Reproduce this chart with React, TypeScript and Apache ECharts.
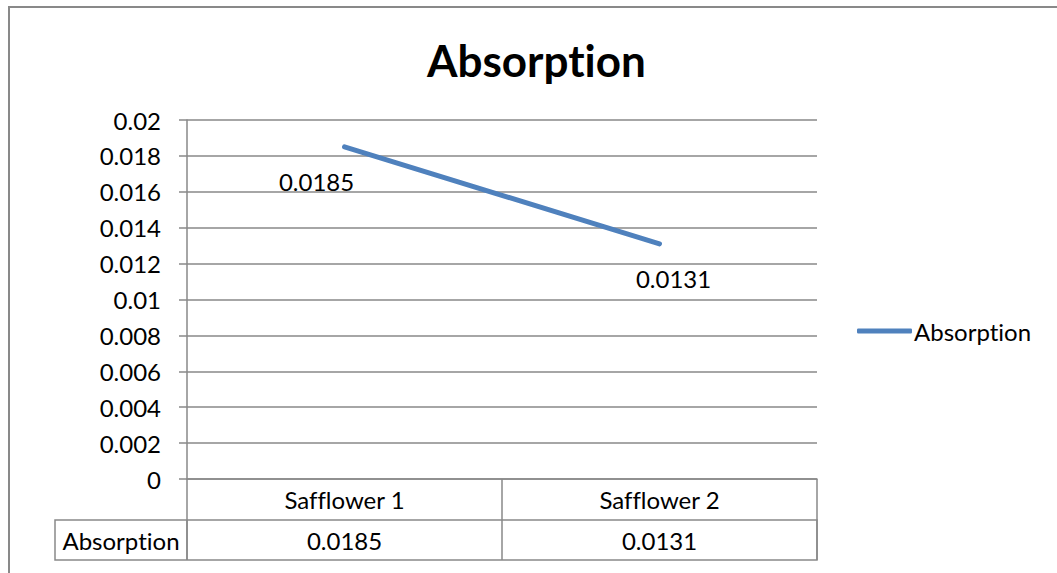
import React, { useEffect, useRef } from "react";
import * as echarts from "echarts";

const categories = ["Safflower 1", "Safflower 2"];
const seriesName = "Absorption";
const absorption = [0.0185, 0.0131];
const yMin = 0;
const yMax = 0.02;
const yInterval = 0.002;

const GRID_LEFT = 187;
const GRID_RIGHT_X = 817;
const GRID_TOP = 120;
const GRID_BOTTOM_Y = 479;
const W = 1057;
const H = 573;
const GRAY = "#898989";
const FONT = "Lato";
const FS = 24;
const labelOffsets = [
  [-28, 18],
  [14, 18],
];

export default function App() {
  const ref = useRef<HTMLDivElement>(null);
  useEffect(() => {
    if (!ref.current) return;
    const chart = echarts.init(ref.current, null, { renderer: "svg" });
    const rowTop = 520;
    const rowBottom = 560;
    const firstColLeft = 55;
    chart.setOption({
      animation: false,
      backgroundColor: "#ffffff",
      textStyle: { fontFamily: FONT, color: "#000" },
      title: {
        text: "Absorption",
        left: 422,
        top: 33,
        textStyle: { fontFamily: FONT, fontSize: 44, fontWeight: "bold", color: "#000" },
      },
      legend: {
        left: 852,
        top: 314,
        itemWidth: 55,
        itemHeight: 5,
        icon: "roundRect",
        itemGap: 10,
        data: [seriesName],
        textStyle: { fontFamily: FONT, fontSize: FS, color: "#000", padding: [0, 0, 0, -3] },
      },
      grid: {
        left: GRID_LEFT,
        right: W - GRID_RIGHT_X,
        top: GRID_TOP,
        bottom: H - GRID_BOTTOM_Y,
        containLabel: false,
      },
      xAxis: {
        type: "category",
        data: categories,
        boundaryGap: true,
        axisLine: { show: true, lineStyle: { color: GRAY, width: 1.5 } },
        axisTick: { show: true, length: 81, interval: 0, lineStyle: { color: GRAY, width: 1.5 } },
        axisLabel: {
          interval: 0,
          margin: 0,
          formatter: (val: string, idx: number) => `{a|${val}}\n{b|${absorption[idx]}}`,
          rich: {
            a: { fontFamily: FONT, fontSize: FS, lineHeight: 41, color: "#000" },
            b: { fontFamily: FONT, fontSize: FS, lineHeight: 41, color: "#000" },
          },
        },
        splitLine: { show: false },
      },
      yAxis: {
        type: "value",
        min: yMin,
        max: yMax,
        interval: yInterval,
        axisLine: { show: true, lineStyle: { color: GRAY, width: 1.5 } },
        axisTick: { show: true, length: 8, lineStyle: { color: GRAY, width: 1.5 } },
        axisLabel: {
          margin: 26,
          fontFamily: FONT,
          fontSize: FS,
          color: "#000",
          formatter: (v: number) => String(parseFloat(v.toFixed(4))),
        },
        splitLine: { show: true, lineStyle: { color: GRAY, width: 1.5 } },
      },
      series: [
        {
          name: seriesName,
          type: "line",
          symbol: "circle",
          symbolSize: 0,
          showSymbol: true,
          lineStyle: { color: "#4F81BD", width: 5, cap: "round" },
          itemStyle: { color: "#4F81BD" },
          data: absorption.map((v, i) => ({
            value: v,
            label: {
              show: true,
              position: "bottom",
              offset: labelOffsets[i],
              fontFamily: FONT,
              fontSize: FS,
              color: "#000",
              formatter: "{c}",
            },
          })),
        },
      ],
      graphic: [
        {
          type: "rect",
          shape: { x: 9, y: 7, width: 1200, height: 800 },
          style: { fill: "none", stroke: GRAY, lineWidth: 2 },
          silent: true,
        },
        {
          type: "rect",
          shape: { x: firstColLeft, y: rowTop, width: GRID_RIGHT_X - firstColLeft, height: rowBottom - rowTop },
          style: { fill: "none", stroke: GRAY, lineWidth: 1.5 },
          silent: true,
        },
        {
          type: "line",
          shape: { x1: GRID_LEFT, y1: rowTop, x2: GRID_LEFT, y2: rowBottom },
          style: { stroke: GRAY, lineWidth: 1.5 },
          silent: true,
        },
        {
          type: "text",
          x: (firstColLeft + GRID_LEFT) / 2,
          y: (rowTop + rowBottom) / 2,
          style: {
            text: seriesName,
            fontFamily: FONT,
            fontSize: FS,
            fill: "#000",
            align: "center",
            verticalAlign: "middle",
          },
          silent: true,
        },
      ],
    });
    return () => chart.dispose();
  }, []);
  return (
    <div
      ref={ref}
      style={{
        position: "absolute",
        left: 0,
        top: 0,
        width: W,
        height: H,
        fontVariantLigatures: "none",
      }}
    />
  );
}
